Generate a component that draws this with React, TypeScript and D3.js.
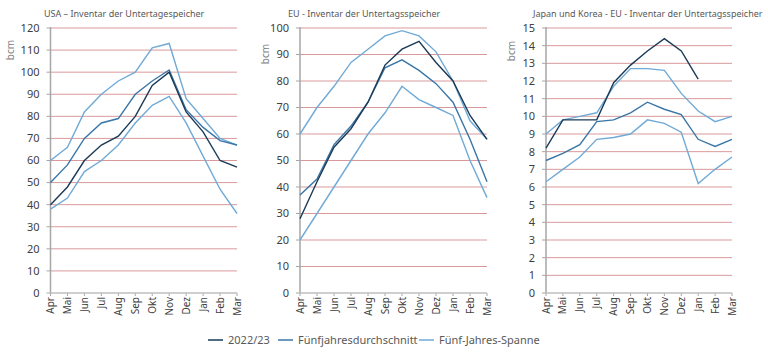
import React from "react";
import * as d3 from "d3";

const months = ["Apr", "Mai", "Jun", "Jul", "Aug", "Sep", "Okt", "Nov", "Dez", "Jan", "Feb", "Mar"];
const seriesNames = ["2022/23", "Fünfjahresdurchschnitt", "Fünf-Jahres-Spanne"];

const usaCurrent = [40, 48, 60, 67, 71, 80, 94, 100, 82, 73, 60, 57];
const usaAverage = [50, 58, 70, 77, 79, 90, 96, 101, 83, 75, 69, 67];
const usaUpper = [60, 66, 82, 90, 96, 100, 111, 113, 88, 79, 70, 67];
const usaLower = [38, 43, 55, 60, 67, 77, 85, 89, 77, 62, 47, 36];
const usaTicks = [0, 10, 20, 30, 40, 50, 60, 70, 80, 90, 100, 110, 120];

const euCurrent = [28, 42, 55, 62, 72, 86, 92, 95, 87, 80, 67, 58];
const euAverage = [37, 43, 56, 63, 72, 85, 88, 84, 79, 72, 58, 42];
const euUpper = [60, 70, 78, 87, 92, 97, 99, 97, 91, 80, 65, 58];
const euLower = [20, 30, 40, 50, 60, 68, 78, 73, 70, 67, 50, 36];
const euTicks = [0, 10, 20, 30, 40, 50, 60, 70, 80, 90, 100];

const jkCurrent: (number | null)[] = [8.2, 9.8, 9.8, 9.8, 11.9, 12.9, 13.7, 14.4, 13.7, 12.1, null, null];
const jkAverage = [7.5, 7.9, 8.4, 9.7, 9.8, 10.2, 10.8, 10.4, 10.1, 8.7, 8.3, 8.7];
const jkUpper = [9.0, 9.8, 10.0, 10.2, 11.7, 12.7, 12.7, 12.6, 11.3, 10.3, 9.7, 10.0];
const jkLower = [6.3, 7.0, 7.7, 8.7, 8.8, 9.0, 9.8, 9.6, 9.1, 6.2, 7.0, 7.7];
const jkTicks = [0, 1, 2, 3, 4, 5, 6, 7, 8, 9, 10, 11, 12, 13, 14, 15];

const COLORS = { current: "#1a3a57", average: "#3a76a6", range: "#70aad6" };
const FONT = "'Noto Sans', 'Open Sans', sans-serif";

type PanelDef = {
  title: string;
  titleX: number;
  x0: number;
  x1: number;
  bcmX: number;
  bcmY: number;
  ticks: number[];
  current: (number | null)[];
  average: number[];
  upper: number[];
  lower: number[];
};

const panels: PanelDef[] = [
  { title: "USA – Inventar der Untertagespeicher", titleX: 44, x0: 50.5, x1: 237, bcmX: 14, bcmY: 50, ticks: usaTicks, current: usaCurrent, average: usaAverage, upper: usaUpper, lower: usaLower },
  { title: "EU - Inventar der Untertagsspeicher", titleX: 288, x0: 300, x1: 487, bcmX: 269, bcmY: 54, ticks: euTicks, current: euCurrent, average: euAverage, upper: euUpper, lower: euLower },
  { title: "Japan und Korea - EU - Inventar der Untertagsspeicher", titleX: 533, x0: 546, x1: 732, bcmX: 515, bcmY: 51, ticks: jkTicks, current: jkCurrent, average: jkAverage, upper: jkUpper, lower: jkLower },
];

const Y_TOP = 28;
const Y_BOTTOM = 293;

function Panel({ p }: { p: PanelDef }) {
  const x = d3.scalePoint<string>().domain(months).range([p.x0, p.x1]).padding(0);
  const maxV = p.ticks[p.ticks.length - 1];
  const y = d3.scaleLinear().domain([0, maxV]).range([Y_BOTTOM, Y_TOP]);
  const line = d3
    .line<number | null>()
    .defined((d) => d != null)
    .x((_, i) => x(months[i]) as number)
    .y((d) => y(d as number));
  const seriesList: { data: (number | null)[]; color: string }[] = [
    { data: p.upper, color: COLORS.range },
    { data: p.lower, color: COLORS.range },
    { data: p.average, color: COLORS.average },
    { data: p.current, color: COLORS.current },
  ];
  return (
    <g>
      <text x={p.titleX} y={17} fontSize={9} fill="#595959" fontFamily={FONT}>
        {p.title}
      </text>
      <text
        transform={`translate(${p.bcmX},${p.bcmY}) rotate(-90)`}
        textAnchor="middle"
        fontSize={10}
        fill="#7f7f7f"
        fontFamily={FONT}
      >
        bcm
      </text>
      {p.ticks.map((t) =>
        t === 0 ? null : (
          <line key={"g" + t} x1={p.x0} x2={p.x1} y1={y(t)} y2={y(t)} stroke="#d9999b" strokeWidth={1} />
        )
      )}
      {p.ticks.map((t) => (
        <g key={"t" + t}>
          <line x1={p.x0 - 4} x2={p.x0} y1={y(t)} y2={y(t)} stroke="#a6a6a6" strokeWidth={1} />
          <text x={p.x0 - 11} y={y(t)} dy="0.35em" textAnchor="end" fontSize={11} fill="#404040" fontFamily={FONT}>
            {t}
          </text>
        </g>
      ))}
      {months.map((m) => (
        <g key={m}>
          <line x1={x(m)} x2={x(m)} y1={Y_BOTTOM} y2={Y_BOTTOM + 3} stroke="#a6a6a6" strokeWidth={1} />
          <text
            transform={`translate(${x(m)},${Y_BOTTOM + 4}) rotate(-90)`}
            textAnchor="end"
            dy="0.35em"
            fontSize={10}
            fill="#404040"
            fontFamily={FONT}
          >
            {m}
          </text>
        </g>
      ))}
      <line x1={p.x0} x2={p.x0} y1={Y_TOP - 1} y2={Y_BOTTOM} stroke="#a6a6a6" strokeWidth={1.5} />
      <line x1={p.x0} x2={p.x1} y1={Y_BOTTOM} y2={Y_BOTTOM} stroke="#bfbfbf" strokeWidth={1.5} />
      {seriesList.map((s, i) => (
        <path key={i} d={line(s.data) || ""} fill="none" stroke={s.color} strokeWidth={1.4} />
      ))}
    </g>
  );
}

export default function App() {
  const legendItems = [
    { name: seriesNames[0], color: COLORS.current, x: 208 },
    { name: seriesNames[1], color: COLORS.average, x: 278 },
    { name: seriesNames[2], color: COLORS.range, x: 419 },
  ];
  return (
    <div style={{ position: "absolute", left: 0, top: 0 }}>
      <svg width={768} height={352} style={{ display: "block", background: "#fff" }}>
        {panels.map((p, i) => (
          <Panel key={i} p={p} />
        ))}
        {legendItems.map((l) => (
          <g key={l.name}>
            <line x1={l.x} x2={l.x + 15} y1={340} y2={340} stroke={l.color} strokeWidth={1.5} />
            <text x={l.x + 20} y={340} dy="0.35em" fontSize={11} fill="#595959" fontFamily={FONT}>
              {l.name}
            </text>
          </g>
        ))}
      </svg>
    </div>
  );
}
